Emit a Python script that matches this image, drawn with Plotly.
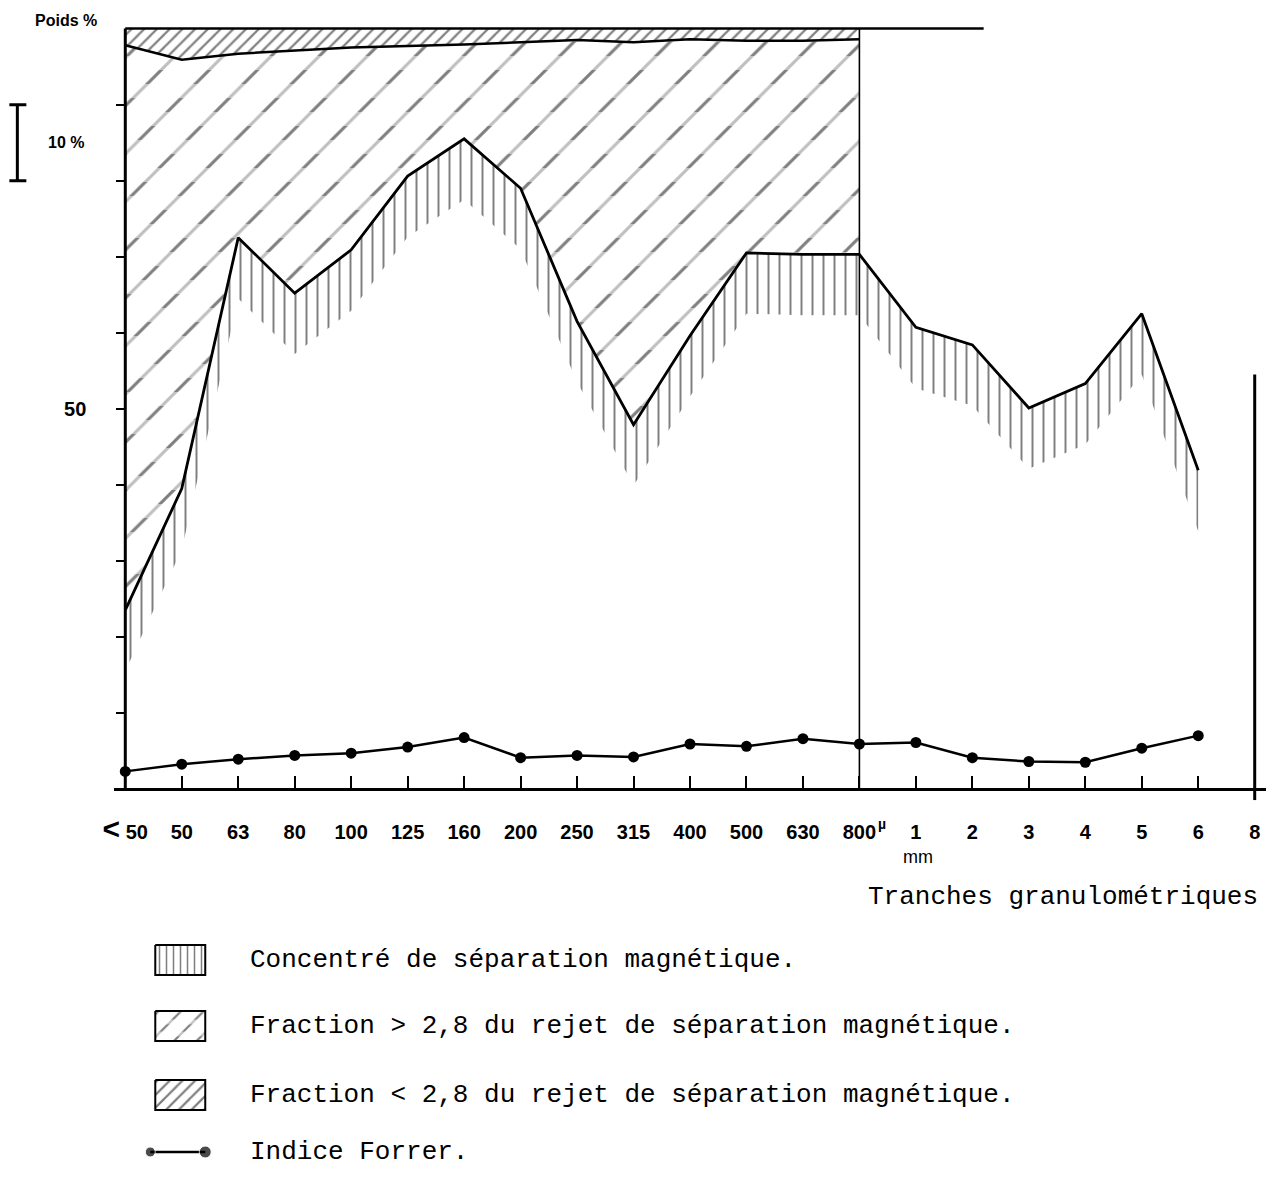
import plotly.graph_objects as go

# ---------------- data ----------------
categories = ["< 50", "50", "63", "80", "100", "125", "160", "200", "250", "315",
              "400", "500", "630", "800", "1", "2", "3", "4", "5", "6", "8"]
# cumulative % (top of the magnetic concentrate)
magnetic = [23.5, 39.5, 72.5, 65.2, 70.9, 80.6, 85.5, 79.0, 61.5, 47.9,
            59.6, 70.5, 70.3, 70.3, 60.7, 58.4, 50.1, 53.3, 62.5, 41.9]
# cumulative % (top of fraction > 2,8), classes < 50 .. 800 µ
dense_upper = [97.8, 95.9, 96.7, 97.1, 97.5, 97.7, 97.9, 98.2, 98.5, 98.2,
               98.6, 98.4, 98.4, 98.6]
# cumulative % (top of fraction < 2,8)
total = [100, 100, 100, 100, 100, 100, 100, 100, 100, 100, 100, 100, 100, 100]
# Forrer index
forrer = [2.3, 3.25, 3.9, 4.4, 4.7, 5.5, 6.75, 4.1, 4.4, 4.2,
          5.9, 5.6, 6.6, 5.9, 6.1, 4.1, 3.6, 3.5, 5.35, 7.0]
y_ticks = [10, 20, 30, 40, 50, 60, 70, 80, 90]
y_tick_labels = ["", "", "", "", "50", "", "", "", ""]
legend_labels = ["Concentré de séparation magnétique.",
                 "Fraction > 2,8 du rejet de séparation magnétique.",
                 "Fraction < 2,8 du rejet de séparation magnétique.",
                 "Indice Forrer."]

# ---------------- geometry (reference pixel positions) ----------------
OFF = 8                      # page body margin
W, H = 1261, 1181            # figure size (fits in the window with the margins)
PX_X0, PX_PER_X = 125.0, 56.5      # ref pixel of index 0, px per class
PX_Y0, PX_PER_Y = 789.0, 7.6       # ref pixel of 0 %, px per %
XR = [-0.2, 20.2]
YR = [-1.5, 101]
L_M = (PX_X0 - OFF) + XR[0] * PX_PER_X
R_M = W - ((PX_X0 - OFF) + XR[1] * PX_PER_X)
T_M = (PX_Y0 - OFF) - YR[1] * PX_PER_Y
B_M = 10
PW = W - L_M - R_M
PH = H - T_M - B_M
plot_bottom_ref = PX_Y0 - YR[0] * PX_PER_Y


def pxp(px):
    return (px - OFF - L_M) / PW


def pyp(py):
    return (H - B_M - (py - OFF)) / PH


x_idx = list(range(len(magnetic)))
n_rej = len(dense_upper)
FRINGE = 8  # depth of the vertical hatching under the concentrate line (%)


def fmt_tick(c):
    if c.startswith("<"):
        return "<span style='font-size:30px'><b>&lt;</b></span> " + c[1:].strip()
    return c


def band(x, upper, lower):
    """closed polygon between two curves"""
    return list(x) + list(x)[::-1] + [x[0]], list(upper) + list(lower)[::-1] + [upper[0]]


tick_text = [fmt_tick(c) for c in categories]
NOFILL = "rgba(0,0,0,0)"

fig = go.Figure()

# magnetic concentrate: vertical hatching hanging under the curve
fig.add_trace(go.Scatter(x=x_idx, y=[m - FRINGE for m in magnetic], mode="lines",
                         line=dict(width=0), showlegend=False, hoverinfo="skip"))
fig.add_trace(go.Scatter(x=x_idx, y=magnetic, mode="lines", line=dict(width=0),
                         fill="tonexty", fillcolor=NOFILL,
                         fillpattern=dict(shape="|", size=11, solidity=0.18,
                                          fgcolor="black", bgcolor=NOFILL),
                         showlegend=False, hoverinfo="skip"))

# fraction > 2,8 : diagonal strokes ...
bx, by = band(x_idx[:n_rej], dense_upper, magnetic[:n_rej])
fig.add_trace(go.Scatter(x=bx, y=by, mode="lines", line=dict(width=0),
                         fill="toself", fillcolor="white",
                         fillpattern=dict(shape="/", size=34, solidity=0.09,
                                          fgcolor="black", bgcolor="white"),
                         showlegend=False, hoverinfo="skip"))
# ... cut into dashes by white horizontal bands
fig.add_trace(go.Scatter(x=bx, y=by, mode="lines", line=dict(width=0),
                         fill="toself", fillcolor=NOFILL,
                         fillpattern=dict(shape="-", size=28, solidity=0.5,
                                          fgcolor="white", bgcolor=NOFILL,
                                          fillmode="overlay"),
                         showlegend=False, hoverinfo="skip"))
# fraction < 2,8
lx, ly = band(x_idx[:n_rej], total, dense_upper)
fig.add_trace(go.Scatter(x=lx, y=ly, mode="lines", line=dict(width=0),
                         fill="toself", fillcolor="white",
                         fillpattern=dict(shape="/", size=9, solidity=0.25,
                                          fgcolor="black", bgcolor="white"),
                         showlegend=False, hoverinfo="skip"))
# boundary lines
fig.add_trace(go.Scatter(x=x_idx[:n_rej], y=dense_upper, mode="lines",
                         line=dict(width=2.5, color="black"), showlegend=False))
fig.add_trace(go.Scatter(x=x_idx, y=magnetic, mode="lines",
                         line=dict(width=2.8, color="black"), showlegend=False))
# Forrer index
fig.add_trace(go.Scatter(x=x_idx, y=forrer, mode="lines+markers",
                         line=dict(width=2.5, color="black"),
                         marker=dict(size=11, color="black"),
                         cliponaxis=False, showlegend=False))

# ---------------- custom legend (axes in reference pixels) ----------------
rows = [960, 1026, 1095, 1152]
box_x0, box_x1 = 155, 205
box_patterns = [[dict(shape="|", size=7, solidity=0.22, fgcolor="black", bgcolor="white")],
                [dict(shape="/", size=16, solidity=0.14, fgcolor="black", bgcolor="white"),
                 dict(shape="-", size=12, solidity=0.4, fgcolor="white", bgcolor=NOFILL,
                      fillmode="overlay")],
                [dict(shape="/", size=9, solidity=0.25, fgcolor="black", bgcolor="white")]]
for r, plist in zip(rows[:3], box_patterns):
    bxs = [box_x0, box_x1, box_x1, box_x0, box_x0]
    bys = [r - 15, r - 15, r + 15, r + 15, r - 15]
    for k, p in enumerate(plist):
        fig.add_trace(go.Scatter(x=bxs, y=bys, xaxis="x2", yaxis="y2", mode="lines",
                                 fill="toself", fillcolor="white" if k == 0 else NOFILL,
                                 line=dict(width=0), fillpattern=p,
                                 showlegend=False, hoverinfo="skip"))
    fig.add_trace(go.Scatter(x=bxs, y=bys, xaxis="x2", yaxis="y2", mode="lines",
                             line=dict(color="black", width=2),
                             showlegend=False, hoverinfo="skip"))
fig.add_trace(go.Scatter(x=[150, 205], y=[rows[3], rows[3]], xaxis="x2", yaxis="y2",
                         mode="lines+markers", line=dict(color="black", width=2.5),
                         marker=dict(color="black", size=[10, 12]),
                         showlegend=False, hoverinfo="skip"))

mono = dict(family="Liberation Mono", size=26, color="black")
sans = dict(family="Liberation Sans", color="black")
annotations = []
for r, lab in zip(rows, legend_labels):
    annotations.append(dict(x=pxp(248), y=pyp(r), xref="paper", yref="paper",
                            text=lab.replace("<", "&lt;").replace(">", "&gt;"),
                            showarrow=False, xanchor="left", yanchor="middle", font=mono))
annotations += [
    dict(x=pxp(1260), y=pyp(897), xref="paper", yref="paper",
         text="Tranches granulométriques", showarrow=False,
         xanchor="right", yanchor="middle", font=mono),
    dict(x=pxp(918), y=pyp(857), xref="paper", yref="paper", text="mm",
         showarrow=False, xanchor="center", yanchor="middle", font=dict(size=18, **sans)),
    dict(x=pxp(876), y=pyp(824), xref="paper", yref="paper", text="µ",
         showarrow=False, xanchor="left", yanchor="middle",
         font=dict(size=14, weight="bold", **sans)),
    dict(x=pxp(66), y=pyp(21), xref="paper", yref="paper", text="<b>Poids %</b>",
         showarrow=False, xanchor="center", yanchor="middle", font=dict(size=16, **sans)),
    dict(x=pxp(66), y=85, xref="paper", yref="y", text="<b>10 %</b>",
         showarrow=False, xanchor="center", yanchor="middle", font=dict(size=16, **sans)),
]

line_k = dict(color="black")
shapes = [
    # left axis
    dict(type="line", xref="x", yref="y", x0=0, x1=0, y0=0, y1=100,
         line=dict(width=3, **line_k), layer="above"),
    # top line (100 %)
    dict(type="line", xref="x", yref="y", x0=0, x1=15.2, y0=100, y1=100,
         line=dict(width=2.5, **line_k), layer="above"),
    # separation µ / mm
    dict(type="line", xref="x", yref="y", x0=13, x1=13, y0=0, y1=100,
         line=dict(width=1.6, **line_k), layer="above"),
    # right closing line
    dict(type="line", xref="x", yref="y", x0=20, x1=20, y0=-1.5, y1=54.5,
         line=dict(width=3, **line_k), layer="above"),
    # 10 % scale bar
    dict(type="line", xref="paper", yref="y", x0=pxp(17), x1=pxp(17), y0=80, y1=90,
         line=dict(width=3, **line_k)),
    dict(type="line", xref="paper", yref="y", x0=pxp(9), x1=pxp(26), y0=90, y1=90,
         line=dict(width=3, **line_k)),
    dict(type="line", xref="paper", yref="y", x0=pxp(9), x1=pxp(26), y0=80, y1=80,
         line=dict(width=3, **line_k)),
]

fig.update_layout(
    width=W, height=H,
    margin=dict(l=L_M, r=R_M, t=T_M, b=B_M, pad=0),
    paper_bgcolor="white", plot_bgcolor="white",
    font=dict(family="Liberation Sans", color="black"),
    showlegend=False,
    xaxis=dict(range=XR, domain=[0, 1], anchor="free", position=pyp(PX_Y0),
               tickmode="array", tickvals=list(range(len(categories))),
               ticktext=tick_text, ticks="inside", ticklen=12, tickwidth=1.5,
               tickcolor="black", showline=True, linecolor="black", linewidth=2.5,
               showgrid=False, zeroline=False, ticklabelstandoff=24,
               tickfont=dict(family="Liberation Sans", size=20, color="black",
                             weight="bold")),
    yaxis=dict(range=YR, domain=[pyp(plot_bottom_ref), 1], anchor="free",
               position=pxp(PX_X0), tickmode="array", tickvals=y_ticks,
               ticktext=y_tick_labels, ticks="outside", ticklen=9, tickwidth=2,
               tickcolor="black", showline=False, showgrid=False, zeroline=False,
               ticklabelstandoff=26,
               tickfont=dict(family="Liberation Sans", size=20, color="black",
                             weight="bold")),
    xaxis2=dict(range=[L_M + OFF, W - R_M + OFF], domain=[0, 1], anchor="y2",
                visible=False, fixedrange=True),
    yaxis2=dict(range=[H - B_M + OFF, 920], domain=[0, pyp(920)], anchor="x2",
                visible=False, fixedrange=True),
    annotations=annotations,
    shapes=shapes,
)

fig.write_html("out.html")
